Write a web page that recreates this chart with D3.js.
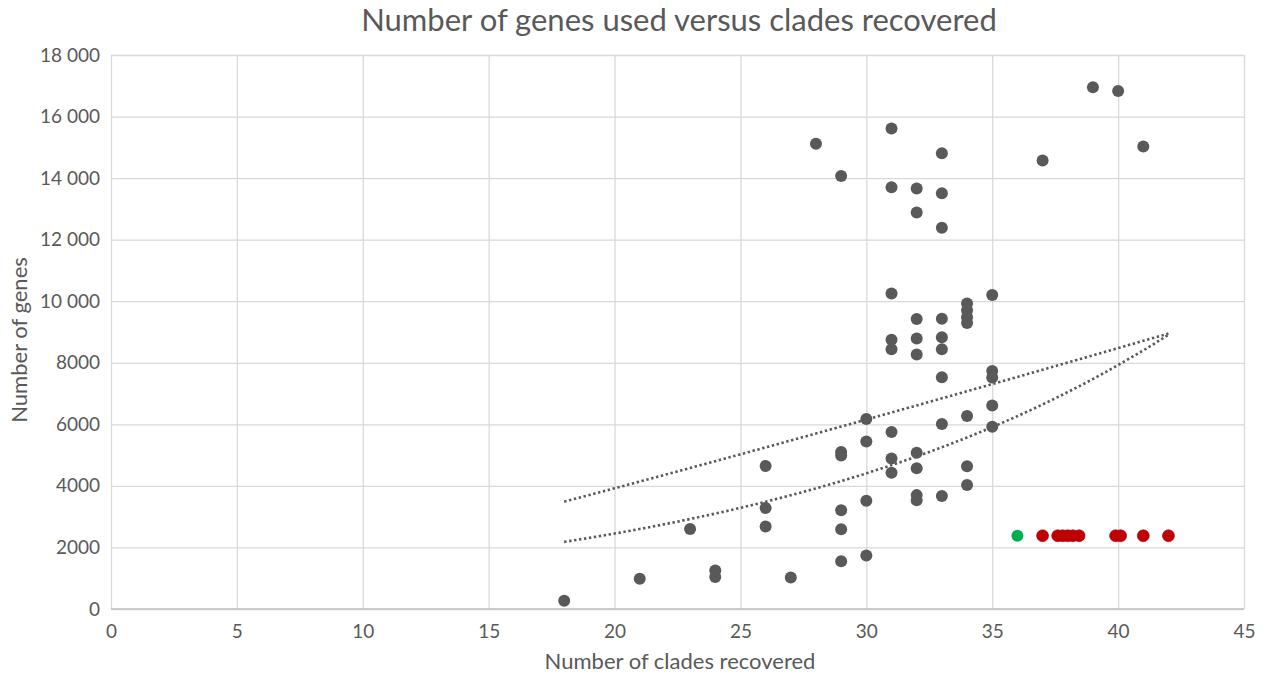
<!DOCTYPE html>
<html>
<head>
<meta charset="utf-8">
<script src="https://cdn.jsdelivr.net/npm/d3@7"></script>
<style>
  html, body { margin: 0; padding: 0; background: #fff; }
  svg { display: block; font-family: Lato, "Open Sans", sans-serif; }
</style>
</head>
<body>
<svg id="chart" width="1269" height="676"></svg>
<script>
// Gene count versus number of clades recovered, one dot per analysis
const cladesGrey = [18, 21, 23, 24, 24, 26, 26, 26, 27, 28,
  29, 29, 29, 29, 29, 29,
  30, 30, 30, 30,
  31, 31, 31, 31, 31, 31, 31, 31,
  32, 32, 32, 32, 32, 32, 32, 32, 32,
  33, 33, 33, 33, 33, 33, 33, 33, 33,
  34, 34, 34, 34, 34, 34, 34,
  35, 35, 35, 35, 35,
  37, 39, 40, 41];
const genesGrey = [270, 980, 2600, 1250, 1040, 4650, 3280, 2680, 1020, 15120,
  14070, 5100, 4990, 3210, 2590, 1550,
  6170, 5440, 3520, 1740,
  15610, 13700, 10250, 8750, 8440, 5750, 4890, 4430,
  13660, 12880, 9420, 8790, 8270, 5080, 4570, 3700, 3530,
  14810, 13510, 12390, 9430, 8830, 8440, 7530, 6010, 3670,
  9930, 9710, 9480, 9290, 6270, 4640, 4030,
  10200, 7730, 7520, 6610, 5920,
  14570, 16950, 16830, 15030];

// Highlighted analyses sharing the same gene set
const cladesRed = [37, 37.6, 37.8, 38.0, 38.2, 38.45, 39.9, 40.1, 41, 42];
const genesRed = [2380, 2380, 2380, 2380, 2380, 2380, 2380, 2380, 2380, 2380];
const cladesGreen = [36];
const genesGreen = [2380];

// Trend lines: power fit (y = a·x^b) and exponential fit (y = c·e^(k·x)), drawn over x = 18..42
const trendRange = [18, 42];
const powerTrend = { a: 140.2, b: 1.112 };
const expoTrend = { c: 758.5, k: 0.05866 };

const xTicks = [0, 5, 10, 15, 20, 25, 30, 35, 40, 45];
const yTicks = [0, 2000, 4000, 6000, 8000, 10000, 12000, 14000, 16000, 18000];

const svg = d3.select("#chart");
const plot = { left: 111, right: 1244, top: 55, bottom: 609 };

const x = d3.scaleLinear().domain([0, 45]).range([plot.left, plot.right]);
const y = d3.scaleLinear().domain([0, 18000]).range([plot.bottom, plot.top]);

const textCol = "#595959";
const gridCol = "#d9d9d9";

const fmtY = v => v >= 10000 ? d3.format(",")(v).replace(/,/g, " ") : String(v);

// gridlines
svg.append("g")
  .attr("transform", `translate(0,${plot.bottom})`)
  .call(d3.axisBottom(x).tickValues(xTicks).tickSize(-(plot.bottom - plot.top)).tickFormat(""))
  .call(g => g.select(".domain").remove())
  .call(g => g.selectAll("line").attr("stroke", gridCol).attr("stroke-width", 1.3));

svg.append("g")
  .attr("transform", `translate(${plot.left},0)`)
  .call(d3.axisLeft(y).tickValues(yTicks).tickSize(-(plot.right - plot.left)).tickFormat(""))
  .call(g => g.select(".domain").remove())
  .call(g => g.selectAll("line").attr("stroke", gridCol).attr("stroke-width", 1.3));

// baseline
svg.append("line")
  .attr("x1", plot.left).attr("x2", plot.right)
  .attr("y1", y(0)).attr("y2", y(0))
  .attr("stroke", "#bfbfbf").attr("stroke-width", 1.5);

// tick labels
svg.append("g")
  .attr("transform", `translate(0,${plot.bottom})`)
  .call(d3.axisBottom(x).tickValues(xTicks).tickSize(0).tickPadding(16))
  .call(g => g.select(".domain").remove())
  .call(g => g.selectAll("text").attr("fill", textCol).style("font-size", "19px").style("font-family", "Lato, sans-serif"));

svg.append("g")
  .attr("transform", `translate(${plot.left},0)`)
  .call(d3.axisLeft(y).tickValues(yTicks).tickSize(0).tickPadding(11).tickFormat(fmtY))
  .call(g => g.select(".domain").remove())
  .call(g => g.selectAll("text").attr("fill", textCol).style("font-size", "19px").style("font-family", "Lato, sans-serif"));

// trend lines
const xs = d3.range(trendRange[0], trendRange[1] + 0.001, 0.25);
const line = d3.line().x(d => x(d[0])).y(d => y(d[1]));
const trends = [
  xs.map(v => [v, powerTrend.a * Math.pow(v, powerTrend.b)]),
  xs.map(v => [v, expoTrend.c * Math.exp(expoTrend.k * v)])
];
svg.append("g").selectAll("path").data(trends).join("path")
  .attr("d", line)
  .attr("fill", "none")
  .attr("stroke", "#595959")
  .attr("stroke-width", 2.6)
  .attr("stroke-dasharray", "2.4,2.6");

// dots
const dots = svg.append("g");
const grey = cladesGrey.map((c, i) => [c, genesGrey[i]]);
const red = cladesRed.map((c, i) => [c, genesRed[i]]);
const green = cladesGreen.map((c, i) => [c, genesGreen[i]]);

dots.selectAll("circle.grey").data(grey).join("circle")
  .attr("class", "grey")
  .attr("cx", d => x(d[0])).attr("cy", d => y(d[1])).attr("r", 6)
  .attr("fill", "#595959");

dots.selectAll("circle.red").data(red).join("circle")
  .attr("class", "red")
  .attr("cx", d => x(d[0])).attr("cy", d => y(d[1])).attr("r", 6)
  .attr("fill", "#c00000").attr("stroke", "#b00010").attr("stroke-width", 0.6);

dots.selectAll("circle.green").data(green).join("circle")
  .attr("class", "green")
  .attr("cx", d => x(d[0])).attr("cy", d => y(d[1])).attr("r", 6)
  .attr("fill", "#00b050");

// titles
svg.append("text")
  .attr("x", 679).attr("y", 31)
  .attr("text-anchor", "middle")
  .attr("fill", textCol)
  .style("font-size", "31px")
  .text("Number of genes used versus clades recovered");

svg.append("text")
  .attr("x", 680).attr("y", 669)
  .attr("text-anchor", "middle")
  .attr("fill", textCol)
  .style("font-size", "22px")
  .text("Number of clades recovered");

svg.append("text")
  .attr("transform", `translate(27,340) rotate(-90)`)
  .attr("text-anchor", "middle")
  .attr("fill", textCol)
  .style("font-size", "22px")
  .text("Number of genes");
</script>
</body>
</html>
